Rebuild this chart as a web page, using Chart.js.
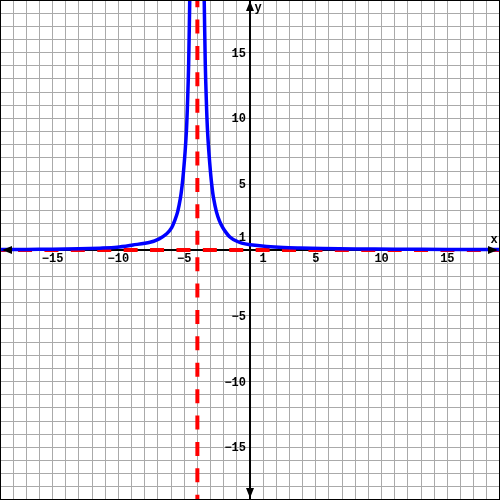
<!DOCTYPE html>
<html>
<head>
<meta charset="utf-8">
<script src="https://cdn.jsdelivr.net/npm/chart.js@4"></script>
<style>
body { margin: 0; background: #fff; }
#wrap { width: 500px; height: 500px; }
</style>
</head>
<body>
<div id="wrap"><canvas id="graphChart" width="500" height="500"></canvas></div>
<script>
const axisMin = -19
const axisMax = 19

// blue curve, left of the asymptote
const leftX = [-19.5, -17, -15, -13, -11.4, -10.1, -8.9, -7.6, -6.9, -6.33, -5.95, -5.72, -5.5, -5.28, -5.16, -5.05, -4.93, -4.82, -4.74, -4.66, -4.58, -4.54]
const leftY = [0.03, 0.04, 0.06, 0.09, 0.14, 0.21, 0.38, 0.59, 0.85, 1.23, 1.7, 2.24, 2.9, 4.0, 4.9, 6.0, 7.5, 9.3, 11.4, 14.2, 19, 21]

// blue curve, right of the asymptote
const rightX = [-3.52, -3.48, -3.4, -3.32, -3.24, -3.13, -3.01, -2.9, -2.78, -2.55, -2.33, -2.07, -1.8, -1.55, -1.27, -0.63, 0, 1.27, 2.53, 3.8, 5.5, 8, 11, 15, 19.5]
const rightY = [21, 19, 14.2, 11.4, 9.3, 7.5, 6.0, 4.9, 4.0, 2.9, 2.24, 1.7, 1.3, 1.0, 0.8, 0.52, 0.4, 0.27, 0.19, 0.15, 0.11, 0.08, 0.06, 0.04, 0.03]

const asymptoteX = -4
const asymptoteY = 0

const xTickLabels = [-15, -10, -5, 1, 5, 10, 15]
const yTickLabels = [-15, -10, -5, 1, 5, 10, 15]

const toPoints = (xs, ys) => xs.map((x, i) => ({x: x, y: ys[i]}))

const labelFont = 'bold 12px "Liberation Mono", "DejaVu Sans Mono", monospace'

const axesPlugin = {
    id: 'axesPlugin',
    beforeDatasetsDraw(chart) {
        const {ctx, chartArea, scales} = chart
        const x0 = Math.round(scales.x.getPixelForValue(0))
        const y0 = Math.round(scales.y.getPixelForValue(0))
        ctx.save()
        ctx.strokeStyle = '#000'
        ctx.lineWidth = 2
        ctx.beginPath()
        ctx.moveTo(chartArea.left, y0)
        ctx.lineTo(chartArea.right, y0)
        ctx.moveTo(x0, chartArea.top)
        ctx.lineTo(x0, chartArea.bottom)
        ctx.stroke()
        ctx.restore()
    },
    afterDatasetsDraw(chart) {
        const {ctx, chartArea, scales} = chart
        const x0 = Math.round(scales.x.getPixelForValue(0))
        const y0 = Math.round(scales.y.getPixelForValue(0))
        ctx.save()
        ctx.fillStyle = '#000'
        // arrow heads
        const L = chartArea.left + 2, R = chartArea.right - 2
        const T = chartArea.top + 1, B = chartArea.bottom - 2
        ctx.beginPath()
        ctx.moveTo(L, y0); ctx.lineTo(L + 10, y0 - 4); ctx.lineTo(L + 10, y0 + 4); ctx.closePath()
        ctx.moveTo(R, y0); ctx.lineTo(R - 10, y0 - 4); ctx.lineTo(R - 10, y0 + 4); ctx.closePath()
        ctx.moveTo(x0, T); ctx.lineTo(x0 - 4, T + 10); ctx.lineTo(x0 + 4, T + 10); ctx.closePath()
        ctx.moveTo(x0, B); ctx.lineTo(x0 - 4, B - 10); ctx.lineTo(x0 + 4, B - 10); ctx.closePath()
        ctx.fill()

        // tick labels
        ctx.font = labelFont
        ctx.textAlign = 'center'
        ctx.textBaseline = 'middle'
        xTickLabels.forEach(v => {
            ctx.fillText(String(v).replace('-', '\u2212'), scales.x.getPixelForValue(v), y0 + 9)
        })
        ctx.textAlign = 'right'
        yTickLabels.forEach(v => {
            ctx.fillText(String(v).replace('-', '\u2212'), x0 - 4, scales.y.getPixelForValue(v) + 1)
        })

        // axis names
        ctx.textAlign = 'center'
        ctx.fillText('x', chartArea.right - 6, y0 - 10)
        ctx.fillText('y', x0 + 8, chartArea.top + 8)

        // frame
        ctx.strokeStyle = '#000'
        ctx.lineWidth = 2
        ctx.strokeRect(0, 0, chart.width, chart.height)
        ctx.restore()
    }
}

const ctx = document.getElementById('graphChart').getContext('2d')
const graphChart = new Chart(ctx, {
    type: 'scatter',
    data: {
        datasets: [
            {
                data: toPoints(leftX, leftY),
                showLine: true,
                borderColor: '#0000ff',
                borderWidth: 3.5,
                pointRadius: 0,
                tension: 0.3
            },
            {
                data: toPoints(rightX, rightY),
                showLine: true,
                borderColor: '#0000ff',
                borderWidth: 3.5,
                pointRadius: 0,
                tension: 0.3
            },
            {
                data: [{x: asymptoteX, y: 20}, {x: asymptoteX, y: -20}],
                showLine: true,
                borderColor: '#ff0000',
                borderWidth: 4,
                borderDash: [14, 12.4],
                borderDashOffset: 20.1,
                pointRadius: 0
            },
            {
                data: [{x: -20, y: asymptoteY}, {x: 20, y: asymptoteY}],
                showLine: true,
                borderColor: '#ff0000',
                borderWidth: 4,
                borderDash: [14, 12.4],
                borderDashOffset: 21.6,
                pointRadius: 0
            }
        ]
    },
    options: {
        responsive: false,
        animation: false,
        events: [],
        layout: { padding: 0, autoPadding: false },
        plugins: {
            legend: { display: false },
            tooltip: { enabled: false }
        },
        scales: {
            x: {
                type: 'linear',
                min: axisMin,
                max: axisMax,
                ticks: { display: false, stepSize: 1, maxTicksLimit: 100 },
                grid: { color: '#aaaaaa', lineWidth: 1, drawTicks: false },
                border: { display: false }
            },
            y: {
                type: 'linear',
                min: axisMin,
                max: axisMax,
                ticks: { display: false, stepSize: 1, maxTicksLimit: 100 },
                grid: { color: '#aaaaaa', lineWidth: 1, drawTicks: false },
                border: { display: false }
            }
        }
    },
    plugins: [axesPlugin]
})
</script>
</body>
</html>
